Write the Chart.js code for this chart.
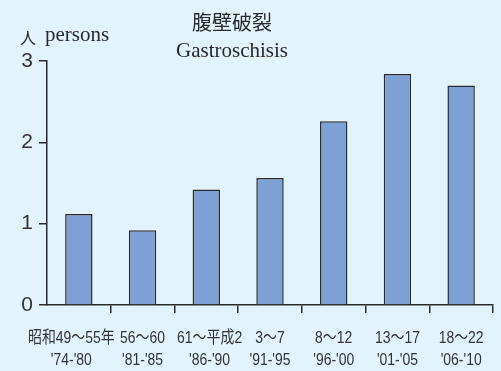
<!DOCTYPE html>
<html><head><meta charset="utf-8">
<script src="https://cdn.jsdelivr.net/npm/chart.js@4"></script>
<style>html,body{margin:0;padding:0;background:#e2f3fc;}#wrap{width:501px;height:371px;}</style>
</head><body><div id="wrap"><canvas id="c" width="501" height="371"></canvas></div>
<script>
const categories = ['昭和49～55年','56～60','61～平成2','3～7','8～12','13～17','18～22'];
const westernYears = ["'74-'80","'81-'85","'86-'90","'91-'95","'96-'00","'01-'05","'06-'10"];
const values = [1.12, 0.92, 1.42, 1.56, 2.26, 2.84, 2.70];
const yTicks = [0, 1, 2, 3];

const BG = '#e2f3fc', INK = '#2a2a2a', LABEL = '#333';
const SX = 0.82; // horizontal condensing of category label font

const deco = {
  id: 'deco',
  beforeDraw(chart) {
    const c = chart.ctx;
    c.save(); c.fillStyle = BG; c.fillRect(0, 0, chart.width, chart.height); c.restore();
  },
  afterDraw(chart) {
    const c = chart.ctx;
    c.save();
    c.fillStyle = INK;
    c.textAlign = 'center'; c.textBaseline = 'alphabetic';
    c.font = '20px "Noto Sans CJK JP"';
    c.fillText('腹壁破裂', 232, 30);
    c.font = '21px "Liberation Serif"';
    c.fillText('Gastroschisis', 232, 57);
    c.textAlign = 'left';
    c.font = '16px "Noto Sans CJK JP"';
    c.fillText('人', 20, 44);
    c.font = '21px "Liberation Serif"';
    c.fillText('persons', 45, 41);

    // category labels (two lines), positioned by the x scale
    const xs = chart.scales.x;
    const half = (xs.getPixelForValue(1) - xs.getPixelForValue(0)) / 2;
    const base = chart.chartArea.bottom;
    c.fillStyle = LABEL;
    c.textAlign = 'center';
    c.font = '17px "Liberation Sans", "Noto Sans CJK JP"';
    categories.forEach((cat, i) => {
      let cx = xs.getPixelForValue(i);
      const w = c.measureText(cat).width * SX;
      if (w / 2 > half - 2) cx = cx + half + 4 - w / 2;
      [cat, westernYears[i]].forEach((t, j) => {
        c.save();
        c.translate(cx, base + 38 + j * 22);
        c.scale(SX, 1);
        c.fillText(t, 0, 0);
        c.restore();
      });
    });
    c.restore();
  }
};

new Chart(document.getElementById('c'), {
  type: 'bar',
  data: {
    labels: categories,
    datasets: [{
      data: values,
      backgroundColor: '#7fa0d5',
      borderColor: INK,
      borderWidth: 1.5,
      barPercentage: 0.43,
      categoryPercentage: 1
    }]
  },
  options: {
    responsive: false,
    animation: false,
    devicePixelRatio: 1,
    layout: { padding: { top: 61, right: 8, left: 0, bottom: 0 } },
    plugins: { legend: { display: false }, tooltip: { enabled: false } },
    scales: {
      x: {
        offset: true,
        grid: {
          offset: true, drawOnChartArea: false, drawTicks: true, tickLength: 8,
          color: (ctx) => ctx.index === 0 ? 'rgba(0,0,0,0)' : INK, lineWidth: 1.5
        },
        border: { color: INK, width: 1.5 },
        ticks: { display: false },
        afterFit(s) { s.height = 66; }
      },
      y: {
        min: 0, max: 3,
        afterBuildTicks(s) { s.ticks = yTicks.map(v => ({ value: v })); },
        grid: { drawOnChartArea: false, drawTicks: true, tickLength: 8, color: INK, lineWidth: 1.5 },
        border: { color: INK, width: 1.5 },
        ticks: {
          color: LABEL, padding: 6,
          font: { family: '"Liberation Sans"', size: 21 }
        },
        afterFit(s) { s.width = 47; }
      }
    }
  },
  plugins: [deco]
});
</script></body></html>
